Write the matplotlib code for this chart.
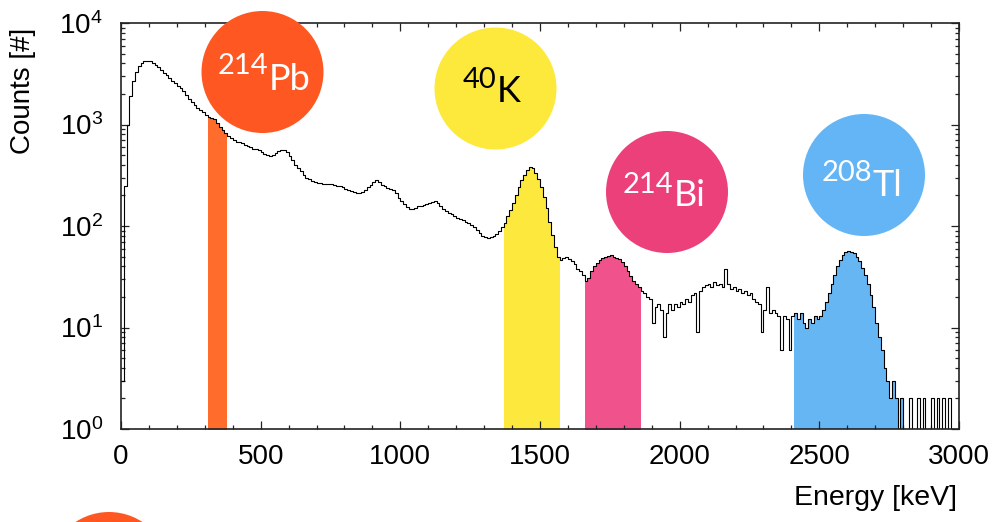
import numpy as np
import matplotlib
matplotlib.use("Agg")
import matplotlib.pyplot as plt
from matplotlib.patches import Ellipse
from matplotlib.ticker import MultipleLocator, LogLocator, NullFormatter, LogFormatterSciNotation

plt.rcParams['font.family'] = ['Liberation Sans', 'DejaVu Sans']
plt.rcParams['mathtext.fontset'] = 'custom'
plt.rcParams['mathtext.rm'] = 'Liberation Sans'
plt.rcParams['mathtext.it'] = 'Liberation Sans:italic'
plt.rcParams['mathtext.bf'] = 'Liberation Sans:bold'
plt.rcParams['mathtext.default'] = 'regular'

# Gamma spectrum, 10 keV bins from 0 to 3000 keV
bin_width = 10
counts = [
    3, 250, 1000, 1900, 2700, 3300, 3750, 4050, 4200, 4250,          # 0-90
    4200, 4050, 3850, 3650, 3450, 3250, 3050, 2850, 2700, 2580,      # 100
    2420, 2280, 2150, 1960, 1790, 1660, 1550, 1450, 1380, 1320,      # 200
    1250, 1190, 1160, 1130, 1040, 950, 880, 820, 770, 730,           # 300
    700, 680, 670, 650, 630, 610, 600, 580, 570, 560,                # 400
    530, 510, 495, 490, 500, 520, 545, 560, 560, 530,                # 500
    490, 450, 400, 370, 345, 320, 300, 290, 280, 272,                # 600
    268, 264, 260, 258, 260, 257, 252, 250, 247, 240,                # 700
    232, 224, 220, 215, 212, 213, 218, 225, 240, 255,                # 800
    270, 282, 270, 252, 245, 238, 230, 228, 210, 190,                # 900
    178, 165, 155, 146, 148, 152, 157, 158, 162, 166,                # 1000
    168, 172, 176, 170, 158, 148, 142, 135, 130, 125,                # 1100
    120, 117, 114, 110, 106, 102, 98, 92, 86, 80,                    # 1200
    78, 76, 78, 80, 84, 90, 97, 108, 125, 145,                       # 1300
    170, 200, 240, 285, 320, 355, 378, 370, 335, 290,                # 1400
    240, 195, 150, 110, 82, 62, 50, 46, 48, 50,                      # 1500
    47, 45, 42, 38, 36, 33, 29, 31, 36, 40,                          # 1600
    43, 46, 48, 50, 51, 52, 50, 48, 47, 44,                          # 1700
    40, 36, 32, 29, 27, 25, 23, 22, 20, 19,                          # 1800
    11, 16, 17, 15, 8, 14, 17, 15, 17, 16,                           # 1900
    18, 17, 19, 18, 21, 22, 9, 23, 25, 26,                           # 2000
    27, 25, 28, 26, 27, 25, 38, 27, 24, 25,                          # 2100
    23, 24, 22, 23, 21, 22, 19, 18, 17, 9,                           # 2200
    15, 25, 14, 15, 14, 13, 6, 13, 12, 6,                            # 2300
    13, 14, 12, 14, 11, 10, 12, 11, 13, 12,                          # 2400
    13, 15, 18, 22, 27, 33, 40, 46, 52, 55,                          # 2500
    57, 56, 54, 50, 45, 39, 33, 27, 21, 16,                          # 2600
    11, 8, 6, 4, 3, 2, 3, 2, 0, 2,                                   # 2700
    1, 0, 2, 0, 1, 2, 0, 2, 0, 1,                                    # 2800
    2, 0, 2, 0, 2, 1, 2, 0, 0, 0,                                    # 2900
]

# Isotope windows (keV) and their colours
isotope_mass = ["214", "40", "214", "208"]
isotope_symbol = ["Pb", "K", "Bi", "Tl"]
window_lo = [310, 1370, 1660, 2410]
window_hi = [380, 1570, 1860, 2800]
fill_colors = ["#FF6C2C", "#FDE93E", "#F0528C", "#66B6F4"]
badge_colors = ["#FF5722", "#FDE93B", "#EC407A", "#64B5F6"]
badge_text_colors = ["white", "black", "white", "white"]

W, H = 999, 522
fig = plt.figure(figsize=(W / 100, H / 100), dpi=100)
ax = fig.add_axes([121 / W, 1 - 429 / H, (959 - 121) / W, (429 - 23) / H])

counts = np.asarray(counts, dtype=float)
edges = np.arange(len(counts) + 1) * bin_width

# Shaded isotope windows under the spectrum
for lo, hi, c in zip(window_lo, window_hi, fill_colors):
    i0, i1 = lo // bin_width, hi // bin_width
    xs = edges[i0:i1 + 1]
    ys = np.append(counts[i0:i1], counts[i1 - 1])
    ax.fill_between(xs, ys, 0.5, step='post', color=c, lw=0, zorder=1)

# Spectrum outline
ax.step(edges, np.append(counts, counts[-1]), where='post',
        color='black', lw=0.8, zorder=2)

ax.set_yscale('log')
ax.set_xlim(0, 3000)
ax.set_ylim(1, 1e4)

ax.xaxis.set_major_locator(MultipleLocator(500))
ax.xaxis.set_minor_locator(MultipleLocator(100))
ax.yaxis.set_major_locator(LogLocator(base=10, numticks=10))
ax.yaxis.set_minor_locator(LogLocator(base=10, subs=np.arange(2, 10), numticks=10))
ax.yaxis.set_minor_formatter(NullFormatter())
ax.yaxis.set_major_formatter(LogFormatterSciNotation())

ax.tick_params(which='both', direction='in', top=True, right=True,
               color='#222222', width=0.9)
ax.tick_params(which='major', length=5.5, labelsize=20)
ax.tick_params(axis='x', which='major', pad=11)
ax.tick_params(axis='y', which='major', pad=13)
ax.tick_params(which='minor', length=3)
for s in ax.spines.values():
    s.set_color('#222222')
    s.set_linewidth(1.2)

fig.text(23 / W, 1 - 91 / H, "Counts [#]", rotation=90, fontsize=20,
         ha='center', va='center')
fig.text(957 / W, 1 - 498 / H, "Energy [keV]", fontsize=20.5,
         ha='right', va='center')

# Isotope badges: circle centres / radius and label anchor in pixels
badge_center = [(262.5, 72), (495.5, 88.5), (667, 192), (864, 175)]
badge_radius = 61
label_start = [218, 463, 623, 822]
sup_baseline = [74, 88.5, 193, 181.5]
main_baseline = [89.5, 102, 206, 196.5]

for (cx, cy), c in zip(badge_center, badge_colors):
    fig.add_artist(Ellipse((cx / W, 1 - cy / H), 2 * badge_radius / W,
                           2 * badge_radius / H, transform=fig.transFigure,
                           color=c, lw=0, zorder=5))
# partly visible badge at the lower left edge
fig.add_artist(Ellipse((109 / W, 1 - 573 / H), 2 * badge_radius / W,
                       2 * badge_radius / H, transform=fig.transFigure,
                       color=badge_colors[0], lw=0, zorder=5))

renderer = fig.canvas.get_renderer()
for i in range(len(isotope_symbol)):
    sup = fig.text(label_start[i] / W, 1 - sup_baseline[i] / H, isotope_mass[i],
                   family='Lato', fontsize=21, color=badge_text_colors[i],
                   ha='left', va='baseline', zorder=6)
    bb = sup.get_window_extent(renderer)
    fig.text(bb.x1 / W, 1 - main_baseline[i] / H, isotope_symbol[i],
             family='Lato', fontsize=26, color=badge_text_colors[i],
             ha='left', va='baseline', zorder=6)

fig.savefig("out.png", dpi=100, facecolor='white')
